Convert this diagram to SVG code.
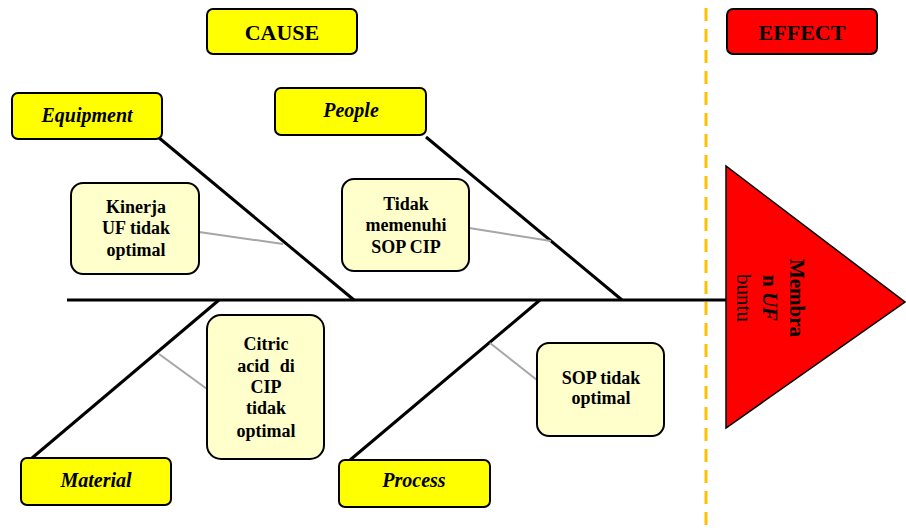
<svg xmlns="http://www.w3.org/2000/svg" width="906" height="532" viewBox="0 0 906 532">
<style>
.t{font-family:"Liberation Serif","Times New Roman",serif;font-weight:bold;fill:#000;text-anchor:middle}
.hdr{font-size:22px}
.lbl{font-size:20px;font-style:italic}
.cause{font-size:18px}
.ybox{fill:#FFFF00;stroke:#000;stroke-width:2}
.rbox{fill:#FF0000;stroke:#000;stroke-width:2}
.cbox{fill:#FFFFCC;stroke:#000;stroke-width:2}
.bone{stroke:#000;stroke-width:3;fill:none}
.sub{stroke:#A6A6A6;stroke-width:2;fill:none}
</style>
<rect width="906" height="532" fill="#fff"/>
<line x1="706" y1="8" x2="706" y2="532" stroke="#FFC000" stroke-width="3" stroke-dasharray="13 8"/>
<g id="connectors">
<line class="bone" x1="67" y1="300" x2="727" y2="300"/>
<line class="bone" x1="158" y1="137" x2="354" y2="300"/>
<line class="bone" x1="426" y1="137" x2="622" y2="300"/>
<line class="bone" x1="219" y1="300" x2="32" y2="458"/>
<line class="bone" x1="540" y1="300" x2="350" y2="460"/>
<line class="sub" x1="199" y1="232" x2="283" y2="244"/>
<line class="sub" x1="469" y1="228" x2="551" y2="241"/>
<line class="sub" x1="159" y1="354" x2="207" y2="389"/>
<line class="sub" x1="490" y1="343" x2="537" y2="380"/>
</g>
<g id="cause">
<rect class="ybox" x="207" y="9" width="150" height="45" rx="6"/>
<text class="t hdr" x="282" y="40">CAUSE</text>
</g>
<g id="effect">
<rect class="rbox" x="727" y="9" width="150" height="45" rx="6"/>
<text class="t hdr" x="802" y="40">EFFECT</text>
</g>
<g id="effect-head">
<polygon points="726,166 726,428 905,302" fill="#FF0000" stroke="#000" stroke-width="1.5"/>
<g transform="translate(771,298) rotate(90)">
<text class="t" style="font-size:21px" x="0" y="-19">Membra</text>
<text class="t" style="font-size:21px" x="0" y="8">n <tspan font-style="italic">UF</tspan></text>
<text class="t" style="font-size:21px;font-weight:normal" x="0" y="34">buntu</text>
</g>
</g>
<g id="equipment">
<rect class="ybox" x="12" y="93" width="150" height="46" rx="6"/>
<text class="t lbl" x="87" y="122">Equipment</text>
</g>
<g id="people">
<rect class="ybox" x="275" y="88" width="151" height="47" rx="6"/>
<text class="t lbl" x="351" y="117">People</text>
</g>
<g id="material">
<rect class="ybox" x="21" y="458" width="150" height="47" rx="6"/>
<text class="t lbl" x="96" y="487">Material</text>
</g>
<g id="process">
<rect class="ybox" x="339" y="460" width="151" height="47" rx="6"/>
<text class="t lbl" x="414" y="487">Process</text>
</g>
<g id="kinerja">
<rect class="cbox" x="71" y="183" width="128" height="91" rx="12"/>
<text class="t cause" x="136" y="213">Kinerja</text>
<text class="t cause" x="136" y="234">UF tidak</text>
<text class="t cause" x="136" y="256">optimal</text>
</g>
<g id="tidak-memenuhi">
<rect class="cbox" x="342" y="179" width="127" height="92" rx="12"/>
<text class="t cause" x="406" y="210">Tidak</text>
<text class="t cause" x="406" y="231">memenuhi</text>
<text class="t cause" x="406" y="253">SOP CIP</text>
</g>
<g id="citric">
<rect class="cbox" x="207" y="315" width="117" height="144" rx="14"/>
<text class="t cause" x="266" y="350">Citric</text>
<text class="t cause" x="266" y="372" word-spacing="6">acid di</text>
<text class="t cause" x="266" y="393">CIP</text>
<text class="t cause" x="266" y="414">tidak</text>
<text class="t cause" x="266" y="437">optimal</text>
</g>
<g id="sop-tidak">
<rect class="cbox" x="537" y="343" width="127" height="93" rx="12"/>
<text class="t cause" x="601" y="384">SOP tidak</text>
<text class="t cause" x="601" y="404">optimal</text>
</g>
</svg>
